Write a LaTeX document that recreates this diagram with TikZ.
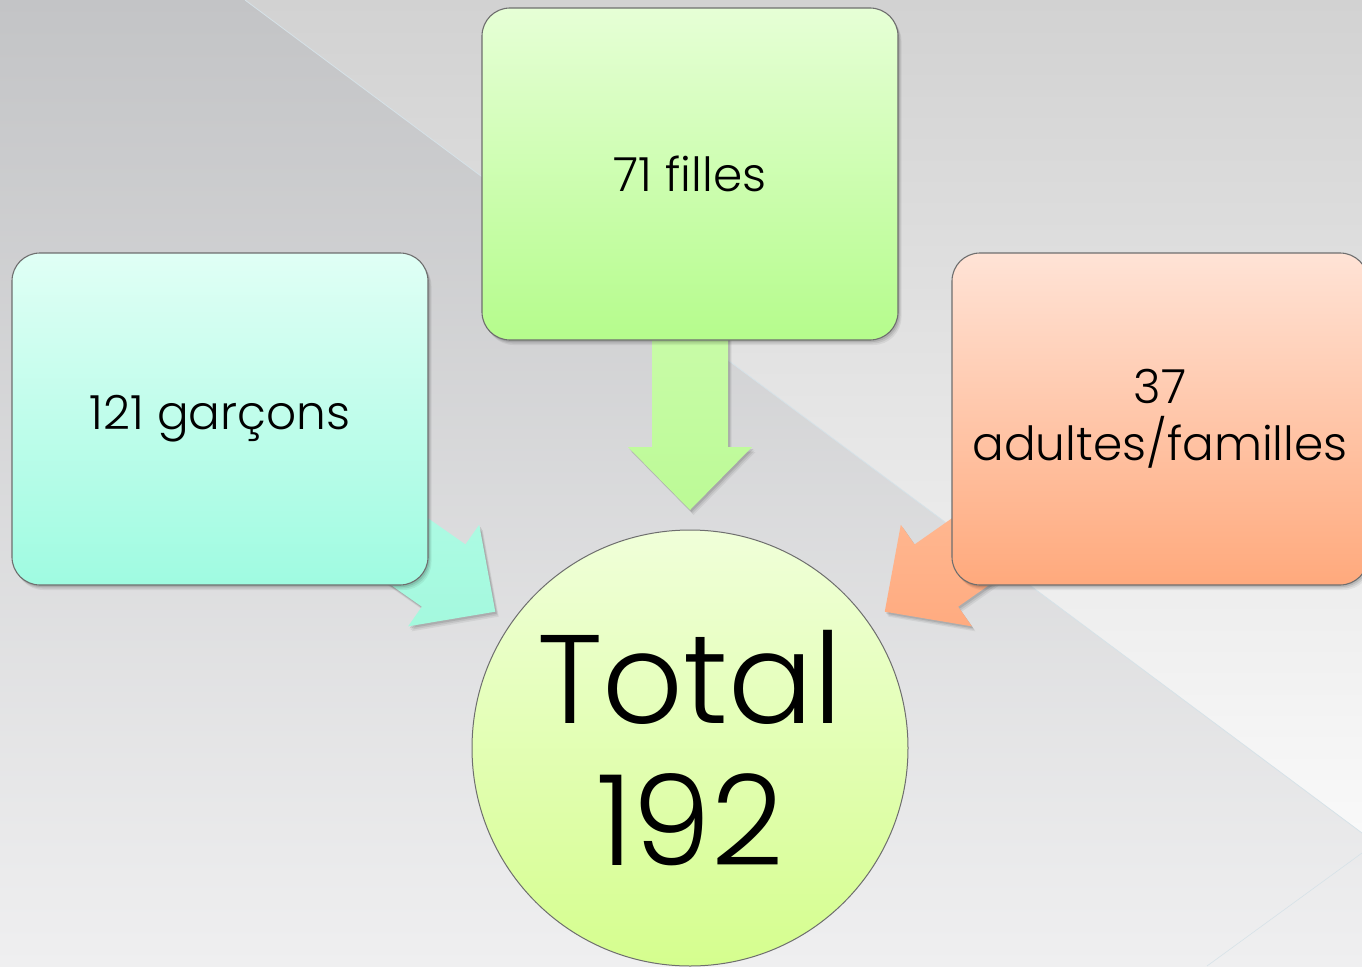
\documentclass[tikz,border=0pt]{standalone}
\usepackage{fontspec}
\setmainfont{Poppins Light}
\usetikzlibrary{calc}
\definecolor{bgTL}{HTML}{C3C4C6}
\definecolor{bgMid}{HTML}{DFDFE1}
\definecolor{bgBot}{HTML}{EFEFF0}
\definecolor{bgRT}{HTML}{D2D2D2}
\definecolor{bgRM}{HTML}{EAEAEA}
\definecolor{bgRB}{HTML}{F9F9F9}
\definecolor{edgeline}{HTML}{D6E2E8}
\definecolor{tealTop}{HTML}{E0FFF5}
\definecolor{tealBot}{HTML}{9FFBE1}
\definecolor{greenTop}{HTML}{E6FFD6}
\definecolor{greenBot}{HTML}{B5FC8C}
\definecolor{orangeTop}{HTML}{FFE3D6}
\definecolor{orangeBot}{HTML}{FFA97C}
\definecolor{circTop}{HTML}{F0FFD9}
\definecolor{circBot}{HTML}{D5FE8E}
\definecolor{arrTealTop}{HTML}{B6FCE9}
\definecolor{arrTealBot}{HTML}{A4F9DE}
\definecolor{arrGreenTop}{HTML}{D4FDB8}
\definecolor{arrGreenBot}{HTML}{BCFA96}
\definecolor{arrOrTop}{HTML}{FFC4A2}
\definecolor{arrOrBot}{HTML}{FFAB80}
\definecolor{rim}{HTML}{6E6E6E}
\tikzset{
  softshadow/.style={
    preaction={fill=black, opacity=0.06, transform canvas={xshift=3.5pt, yshift=-5pt}},
    preaction={fill=black, opacity=0.08, transform canvas={xshift=2.5pt, yshift=-3.5pt}},
    preaction={fill=black, opacity=0.10, transform canvas={xshift=1.5pt, yshift=-2pt}}},
  bigbox/.style={draw=rim, line width=1.1pt, rounded corners=28pt,
    minimum width=416pt, minimum height=332pt, inner sep=0pt, align=center,
    font=\fontsize{47}{57}\selectfont, softshadow},
  totalcircle/.style={circle, draw=rim, line width=1pt, minimum size=436pt,
    inner sep=0pt, align=center, font=\fontsize{126}{142}\selectfont,
    top color=circTop, bottom color=circBot},
}
\newcommand\fatarrow[4]{%
  \pgfmathanglebetweenpoints{\pgfpointanchor{#1}{center}}{\pgfpointanchor{#2}{center}}%
  \let\myang\pgfmathresult
  \begin{scope}[shift={(#1.center)}, rotate=\myang]
    \shade[top color=#3, bottom color=#4, softshadow]
      (0,-38) -- (273,-38) -- (273,-62) -- (336,0) -- (273,62) -- (273,38) -- (0,38) -- cycle;
  \end{scope}}
\begin{document}
\begin{tikzpicture}[x=1pt,y=-1pt]
\path[use as bounding box] (0,0) rectangle (1362,966);
\clip (0,0) rectangle (1362,966);
% background
\shade[top color=bgTL, middle color=bgMid, bottom color=bgBot] (0,0) rectangle (1362,966);
\shade[top color=bgRT, middle color=bgRM, bottom color=bgRB] (245,0) -- (1362,0) -- (1362,833) -- cycle;
\draw[edgeline, line width=0.8pt] (245,0) -- (1362,833);
\draw[edgeline, line width=0.6pt] (1362,853) -- (1207,966);
% node anchors (invisible) used by the arrows
\path (220,419) node[minimum width=416pt, minimum height=332pt] (boys) {}
      (690,174) node[minimum width=416pt, minimum height=332pt] (girls) {}
      (1160,419) node[minimum width=416pt, minimum height=332pt] (adults) {}
      (690,748) node[circle, minimum size=436pt] (total) {};
% arrows (behind boxes)
\fatarrow{boys}{total}{arrTealTop}{arrTealBot}
\fatarrow{girls}{total}{arrGreenTop}{arrGreenBot}
\fatarrow{adults}{total}{arrOrTop}{arrOrBot}
% boxes and circle
\node[bigbox, top color=tealTop, bottom color=tealBot] (boxB) at (boys.center) {121 garçons};
\node[bigbox, top color=greenTop, bottom color=greenBot] (boxG) at (girls.center) {71 filles};
\node[bigbox, top color=orangeTop, bottom color=orangeBot] (boxA) at (adults.center) {37\\adultes/familles};
\node[totalcircle] (circ) at (total.center) {Total\\192};
\end{tikzpicture}
\end{document}
